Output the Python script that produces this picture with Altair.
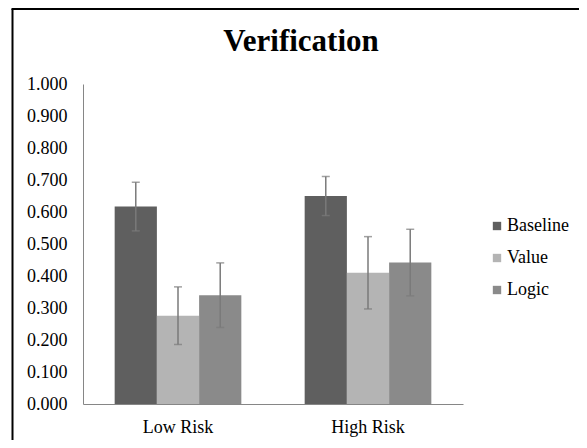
import altair as alt
import pandas as pd

title_text = "Verification"
groups = ["Low Risk", "High Risk"]
series = ["Baseline", "Value", "Logic"]
means_low = [0.617, 0.276, 0.340]
means_high = [0.650, 0.410, 0.442]
err_low = [0.076, 0.090, 0.101]
err_high = [0.061, 0.113, 0.104]
colors = ["#5f5f5f", "#b4b4b4", "#8a8a8a"]
y_ticks = [0.0, 0.1, 0.2, 0.3, 0.4, 0.5, 0.6, 0.7, 0.8, 0.9, 1.0]

rows = []
for g, ms, es in [(groups[0], means_low, err_low), (groups[1], means_high, err_high)]:
    for s, m, e in zip(series, ms, es):
        rows.append({"group": g, "series": s, "mean": m, "lo": m - e, "hi": m + e})
df = pd.DataFrame(rows)

FONT = "Liberation Serif, Times New Roman, serif"

y_axis = alt.Axis(title=None, values=y_ticks, format=".3f", ticks=False, grid=False,
                  labelOverlap=False, labelPadding=16, domainColor="#868686",
                  labelFont=FONT, labelFontSize=18, labelColor="black")
y_scale = alt.Scale(domain=[0, 1])

base = alt.Chart(df).encode(
    x=alt.X("group:N", sort=groups,
            scale=alt.Scale(paddingInner=1/3, paddingOuter=1/6),
            axis=alt.Axis(title=None, labelAngle=0, ticks=False, labelPadding=14,
                          domainColor="#868686", labelFont=FONT, labelFontSize=18,
                          labelColor="black")),
    xOffset=alt.XOffset("series:N", sort=series,
                        scale=alt.Scale(paddingInner=0, paddingOuter=0)),
)

bars = base.mark_bar().encode(
    y=alt.Y("mean:Q", scale=y_scale, axis=y_axis),
    color=alt.Color("series:N", sort=series,
                    scale=alt.Scale(domain=series, range=colors),
                    legend=alt.Legend(title=None, orient="none", legendX=405, legendY=133,
                                      symbolType="square", symbolSize=70, symbolStrokeWidth=0,
                                      labelFont=FONT, labelFontSize=18, labelColor="black",
                                      rowPadding=14, labelOffset=1)),
)

rules = base.mark_rule(color="#7a7a7a", strokeWidth=1.5).encode(
    y=alt.Y("lo:Q", scale=y_scale, axis=y_axis), y2="hi:Q")
cap_hi = base.mark_tick(color="#7a7a7a", thickness=1.5, size=8).encode(
    y=alt.Y("hi:Q", scale=y_scale, axis=y_axis))
cap_lo = base.mark_tick(color="#7a7a7a", thickness=1.5, size=8).encode(
    y=alt.Y("lo:Q", scale=y_scale, axis=y_axis))

one_df = pd.DataFrame({"a": [0]})
frame_left = alt.Chart(one_df).mark_rule(color="black", strokeWidth=2).encode(
    x=alt.value(-70.5), y=alt.value(-75), y2=alt.value(450))
frame_top = alt.Chart(one_df).mark_rule(color="black", strokeWidth=2).encode(
    x=alt.value(-71.5), x2=alt.value(600), y=alt.value(-75))
title = alt.Chart(one_df).mark_text(
    text=title_text, font=FONT, fontSize=31, fontWeight="bold", color="black",
    align="center", baseline="middle").encode(x=alt.value(218), y=alt.value(-42))

chart = alt.layer(bars, rules, cap_hi, cap_lo, frame_left, frame_top, title).properties(
    width=380, height=320,
    autosize=alt.AutoSizeParams(type="none"),
    padding={"left": 75, "top": 76, "right": 116, "bottom": 36},
).configure(background="white", view=alt.ViewConfig(stroke=None))

chart.save("out.html", embed_options={"renderer": "svg", "actions": False})
